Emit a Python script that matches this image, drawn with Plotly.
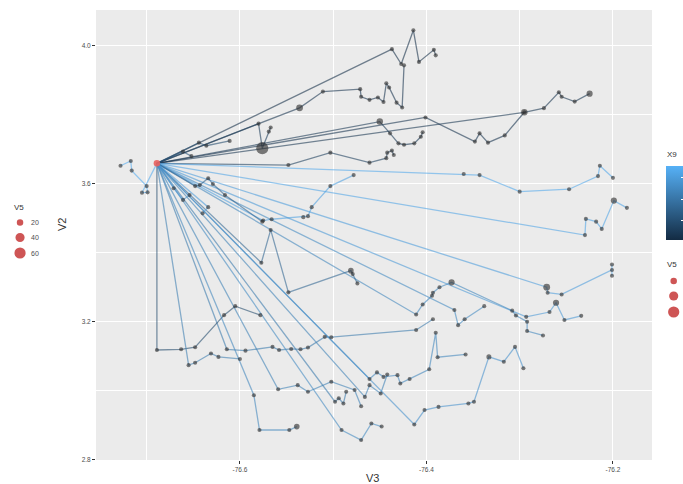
import plotly.graph_objects as go
from plotly.colors import sample_colorscale

# ---------------- data (V3 = longitude, V2 = latitude, V5 = size, X9 = colour) ----------------
ORIGIN_V3 = -76.689
ORIGIN_V2 = 3.659
ORIGIN_V5 = 20

path01_v3 = [-76.437, -76.427, -76.414, -76.408, -76.392, -76.390]
path01_v2 = [3.990, 3.947, 4.045, 3.953, 3.988, 3.972]
path01_v5 = [8, 8, 8, 8, 8, 8]

path02_v3 = [-76.536, -76.511, -76.471, -76.470, -76.461, -76.452, -76.446, -76.443, -76.440, -76.432, -76.426, -76.424]
path02_v2 = [3.820, 3.867, 3.874, 3.852, 3.843, 3.850, 3.837, 3.891, 3.879, 3.835, 3.821, 3.943]
path02_v5 = [22, 8, 8, 8, 8, 8, 8, 8, 8, 8, 8, 8]

path03_v3 = [-76.580, -76.576, -76.569, -76.567]
path03_v2 = [3.774, 3.703, 3.751, 3.763]
path03_v5 = [8, 70, 8, 8]

path04_v3 = [-76.450, -76.439, -76.430, -76.424, -76.413, -76.406, -76.404]
path04_v2 = [3.780, 3.746, 3.717, 3.713, 3.717, 3.736, 3.749]
path04_v5 = [20, 8, 8, 8, 8, 8, 8]

path05_v3 = [-76.401, -76.348, -76.343, -76.334, -76.316, -76.295]
path05_v2 = [3.792, 3.722, 3.746, 3.719, 3.740, 3.807]
path05_v5 = [8, 8, 8, 8, 8, 8]

path06_v3 = [-76.295, -76.274, -76.258, -76.255, -76.241, -76.225]
path06_v2 = [3.807, 3.819, 3.865, 3.852, 3.838, 3.861]
path06_v5 = [20, 8, 8, 8, 8, 18]

path07_v3 = [-76.548, -76.503, -76.461, -76.443, -76.442, -76.437, -76.435]
path07_v2 = [3.654, 3.690, 3.661, 3.674, 3.690, 3.696, 3.683]
path07_v5 = [8, 8, 8, 8, 8, 8, 8]

path08_v3 = [-76.644, -76.636, -76.611]
path08_v2 = [3.719, 3.710, 3.724]
path08_v5 = [8, 8, 8]

path09_v3 = [-76.661, -76.652]
path09_v2 = [3.693, 3.680]
path09_v5 = [8, 8]

path10_v3 = [-76.705, -76.699, -76.700, -76.716, -76.717, -76.728]
path10_v2 = [3.574, 3.575, 3.593, 3.638, 3.666, 3.652]
path10_v5 = [8, 8, 8, 8, 8, 8]

path11_v3 = [-76.360, -76.343, -76.300, -76.247, -76.216, -76.214, -76.200]
path11_v2 = [3.628, 3.625, 3.577, 3.584, 3.622, 3.652, 3.617]
path11_v5 = [8, 8, 8, 8, 8, 8, 8]

path12_v3 = [-76.575, -76.566, -76.532, -76.527, -76.523, -76.503, -76.478]
path12_v2 = [3.493, 3.497, 3.503, 3.506, 3.532, 3.593, 3.625]
path12_v5 = [8, 8, 8, 8, 8, 8, 8]

path13_v3 = [-76.230, -76.229, -76.218, -76.212, -76.199, -76.185]
path13_v2 = [3.451, 3.498, 3.490, 3.469, 3.551, 3.530]
path13_v5 = [8, 8, 8, 8, 18, 8]

path14_v3 = [-76.271, -76.270, -76.255, -76.201, -76.201, -76.201]
path14_v2 = [3.300, 3.284, 3.279, 3.350, 3.366, 3.333]
path14_v5 = [22, 8, 8, 8, 8, 8]

path15_v3 = [-76.293, -76.268, -76.261, -76.252, -76.234]
path15_v2 = [3.214, 3.228, 3.255, 3.205, 3.217]
path15_v5 = [8, 8, 18, 8, 8]

path16_v3 = [-76.411, -76.404, -76.394, -76.393, -76.386, -76.373, -76.308, -76.304, -76.292, -76.292, -76.275]
path16_v2 = [3.221, 3.250, 3.275, 3.284, 3.300, 3.314, 3.232, 3.218, 3.200, 3.173, 3.160]
path16_v5 = [8, 8, 8, 8, 8, 18, 8, 8, 8, 8, 8]

path17_v3 = [-76.370, -76.366, -76.359, -76.338]
path17_v2 = [3.234, 3.190, 3.207, 3.245]
path17_v5 = [8, 8, 8, 8]

path18_v3 = [-76.614, -76.594, -76.565, -76.558, -76.545, -76.535, -76.527, -76.509, -76.502, -76.411, -76.393]
path18_v2 = [3.120, 3.116, 3.127, 3.118, 3.121, 3.120, 3.125, 3.156, 3.155, 3.176, 3.207]
path18_v5 = [8, 8, 8, 8, 8, 8, 8, 8, 8, 8, 8]

path19_v3 = [-76.689, -76.663, -76.648, -76.617, -76.605, -76.578]
path19_v2 = [3.118, 3.120, 3.126, 3.219, 3.245, 3.219]
path19_v5 = [8, 8, 8, 8, 8, 8]

path20_v3 = [-76.655, -76.648, -76.631, -76.623, -76.600]
path20_v2 = [3.074, 3.081, 3.108, 3.098, 3.092]
path20_v5 = [8, 8, 8, 8, 8]

path21_v3 = [-76.577, -76.567, -76.548, -76.481, -76.479, -76.474]
path21_v2 = [3.371, 3.466, 3.285, 3.348, 3.338, 3.311]
path21_v5 = [8, 8, 8, 15, 8, 8]

path22_v3 = [-76.585, -76.579, -76.547, -76.539]
path22_v2 = [2.987, 2.886, 2.886, 2.896]
path22_v5 = [8, 8, 8, 15]

path23_v3 = [-76.559, -76.538, -76.527, -76.502, -76.477, -76.470]
path23_v2 = [3.004, 3.016, 2.997, 3.026, 3.002, 2.955]
path23_v5 = [8, 8, 8, 8, 8, 8]

path24_v3 = [-76.498, -76.494, -76.489, -76.486]
path24_v2 = [2.968, 2.978, 2.963, 2.997]
path24_v5 = [8, 8, 8, 8]

path25_v3 = [-76.461, -76.453, -76.446, -76.431, -76.428, -76.418, -76.397, -76.390, -76.388, -76.358]
path25_v2 = [3.034, 3.053, 3.040, 3.045, 3.021, 3.034, 3.062, 3.168, 3.097, 3.105]
path25_v5 = [8, 8, 8, 8, 8, 8, 8, 8, 8, 8]

path26_v3 = [-76.466, -76.461, -76.449, -76.442]
path26_v2 = [2.982, 3.016, 2.992, 3.047]
path26_v5 = [8, 8, 8, 8]

path27_v3 = [-76.413, -76.402, -76.387, -76.355, -76.349, -76.333, -76.317, -76.305, -76.296]
path27_v2 = [2.902, 2.944, 2.953, 2.963, 2.968, 3.098, 3.084, 3.127, 3.065]
path27_v5 = [8, 8, 8, 8, 8, 12, 8, 8, 8]

path28_v3 = [-76.491, -76.470, -76.459, -76.448]
path28_v2 = [2.886, 2.857, 2.905, 2.896]
path28_v5 = [8, 8, 8, 8]

path29_v3 = [-76.648, -76.643, -76.634, -76.629, -76.616, -76.576]
path29_v2 = [3.593, 3.596, 3.616, 3.599, 3.567, 3.490]
path29_v5 = [8, 8, 8, 8, 8, 8]

path30_v3 = [-76.671, -76.661, -76.654]
path30_v2 = [3.587, 3.553, 3.567]
path30_v5 = [8, 8, 8]

path31_v3 = [-76.634, -76.640]
path31_v2 = [3.532, 3.514]
path31_v5 = [8, 8]

X9 = [0.20, 0.30, 0.50, 0.40, 0.30, 0.35, 0.60, 0.90, 1.10, 3.40,
      3.30, 3.10, 3.20, 3.00, 2.90, 2.40, 2.50, 2.10, 0.90, 2.20,
      1.60, 2.40, 2.30, 2.10, 2.40, 2.30, 2.70, 2.50, 1.50, 2.80, 3.00]
X9_MIN, X9_MAX = 0.1, 3.5
X9_TICKS = [1, 2, 3]

X_TICKS = [-76.6, -76.4, -76.2]
X_TICKTEXT = ["-76.6", "-76.4", "-76.2"]
X_MINOR = [-76.7, -76.5, -76.3]
Y_TICKS = [2.8, 3.2, 3.6, 4.0]
Y_TICKTEXT = ["2.8", "3.2", "3.6", "4.0"]
Y_MINOR = [3.0, 3.4, 3.8]
V5_LEGEND = [20, 40, 60]
V5_LEGEND_TEXT = ["20", "40", "60"]

PATHS = [
    (path01_v3, path01_v2, path01_v5), (path02_v3, path02_v2, path02_v5),
    (path03_v3, path03_v2, path03_v5), (path04_v3, path04_v2, path04_v5),
    (path05_v3, path05_v2, path05_v5), (path06_v3, path06_v2, path06_v5),
    (path07_v3, path07_v2, path07_v5), (path08_v3, path08_v2, path08_v5),
    (path09_v3, path09_v2, path09_v5), (path10_v3, path10_v2, path10_v5),
    (path11_v3, path11_v2, path11_v5), (path12_v3, path12_v2, path12_v5),
    (path13_v3, path13_v2, path13_v5), (path14_v3, path14_v2, path14_v5),
    (path15_v3, path15_v2, path15_v5), (path16_v3, path16_v2, path16_v5),
    (path17_v3, path17_v2, path17_v5), (path18_v3, path18_v2, path18_v5),
    (path19_v3, path19_v2, path19_v5), (path20_v3, path20_v2, path20_v5),
    (path21_v3, path21_v2, path21_v5), (path22_v3, path22_v2, path22_v5),
    (path23_v3, path23_v2, path23_v5), (path24_v3, path24_v2, path24_v5),
    (path25_v3, path25_v2, path25_v5), (path26_v3, path26_v2, path26_v5),
    (path27_v3, path27_v2, path27_v5), (path28_v3, path28_v2, path28_v5),
    (path29_v3, path29_v2, path29_v5), (path30_v3, path30_v2, path30_v5),
    (path31_v3, path31_v2, path31_v5),
]

# ---------------- styling ----------------
COLORSCALE = [[0, "#132B43"], [1, "#56B1F7"]]
FONT = "Liberation Sans, Arial, sans-serif"
W, H = 683, 484
L_PX, R_PX, T_PX, B_PX = 96, 652.3, 10, 460


def dia(v):
    return 1.45 * v ** 0.5


def px_x(px):
    return (px - L_PX) / (R_PX - L_PX)


def px_y(py):
    return (B_PX - py) / (B_PX - T_PX)


fig = go.Figure()

# paths (all start from origin)
for (vx, vy, v5), x9 in zip(PATHS, X9):
    t = (x9 - X9_MIN) / (X9_MAX - X9_MIN)
    col = sample_colorscale(COLORSCALE, [t])[0]
    fig.add_trace(go.Scatter(
        x=[ORIGIN_V3] + vx, y=[ORIGIN_V2] + vy, mode="lines",
        line=dict(color=col, width=1.3), opacity=0.58,
        hoverinfo="skip", showlegend=False))

# points
for (vx, vy, v5), x9 in zip(PATHS, X9):
    fig.add_trace(go.Scatter(
        x=vx, y=vy, mode="markers",
        marker=dict(size=[dia(v) for v in v5], color="#2e2e2e", opacity=0.62,
                    line=dict(width=0)),
        hoverinfo="skip", showlegend=False))

# colour bar carrier
fig.add_trace(go.Scatter(
    x=[ORIGIN_V3], y=[ORIGIN_V2], mode="markers",
    marker=dict(size=1, color=[X9_MIN], colorscale=COLORSCALE, cmin=X9_MIN, cmax=X9_MAX,
                showscale=True,
                colorbar=dict(x=px_x(666.5), xanchor="left", xpad=0, ypad=0,
                              y=px_y(203.4), yanchor="middle",
                              len=73.5, lenmode="pixels", thickness=18,
                              outlinewidth=0, ticks="inside", ticklen=3,
                              tickcolor="white", tickwidth=1,
                              tickvals=X9_TICKS, showticklabels=False)),
    hoverinfo="skip", showlegend=False))

# origin point
fig.add_trace(go.Scatter(
    x=[ORIGIN_V3], y=[ORIGIN_V2], mode="markers",
    marker=dict(size=dia(ORIGIN_V5), color="#E8615E", opacity=0.9, line=dict(width=0)),
    hoverinfo="skip", showlegend=False))

shapes = []
annotations = []

# axis titles
annotations.append(dict(text="V3", x=px_x(372.5), y=px_y(478), xref="paper", yref="paper",
                        showarrow=False, font=dict(family=FONT, size=11, color="#333333"),
                        xanchor="center", yanchor="middle"))
annotations.append(dict(text="V2", x=px_x(62), y=px_y(225), xref="paper", yref="paper",
                        showarrow=False, textangle=-90,
                        font=dict(family=FONT, size=11, color="#333333"),
                        xanchor="center", yanchor="middle"))

# left V5 legend
annotations.append(dict(text="V5", x=px_x(12), y=px_y(207), xref="paper", yref="paper",
                        showarrow=False, font=dict(family=FONT, size=8, color="#333333"),
                        xanchor="left", yanchor="middle"))
for v, lab, cy in zip(V5_LEGEND, V5_LEGEND_TEXT, [222.5, 237.5, 253]):
    d = dia(v)
    shapes.append(dict(type="circle", xref="paper", yref="paper",
                       x0=px_x(20 - d / 2), x1=px_x(20 + d / 2),
                       y0=px_y(cy + d / 2), y1=px_y(cy - d / 2),
                       fillcolor="#C94343", opacity=0.9, line=dict(width=0)))
    annotations.append(dict(text=lab, x=px_x(29), y=px_y(cy), xref="paper", yref="paper",
                            showarrow=False, font=dict(family=FONT, size=7, color="#4d4d4d"),
                            xanchor="left", yanchor="middle"))

# right legends
annotations.append(dict(text="X9", x=px_x(665.5), y=px_y(155), xref="paper", yref="paper",
                        showarrow=False, font=dict(family=FONT, size=8, color="#333333"),
                        xanchor="left", yanchor="middle"))
annotations.append(dict(text="V5", x=px_x(665.5), y=px_y(264), xref="paper", yref="paper",
                        showarrow=False, font=dict(family=FONT, size=8, color="#333333"),
                        xanchor="left", yanchor="middle"))
for v, cy in zip(V5_LEGEND, [281, 296, 312]):
    d = dia(v)
    shapes.append(dict(type="circle", xref="paper", yref="paper",
                       x0=px_x(674 - d / 2), x1=px_x(674 + d / 2),
                       y0=px_y(cy + d / 2), y1=px_y(cy - d / 2),
                       fillcolor="#C94343", opacity=0.9, line=dict(width=0)))

fig.update_layout(
    width=W, height=H,
    margin=dict(l=L_PX, r=W - R_PX, t=T_PX, b=H - B_PX, autoexpand=False),
    paper_bgcolor="white", plot_bgcolor="#EBEBEB",
    showlegend=False, hovermode=False,
    font=dict(family=FONT),
    shapes=shapes, annotations=annotations,
    xaxis=dict(range=[-76.7543, -76.1581], tickvals=X_TICKS, ticktext=X_TICKTEXT,
               ticks="outside", ticklen=3, tickwidth=1, tickcolor="#333333",
               tickfont=dict(size=6.5, color="#4d4d4d"),
               showgrid=True, gridcolor="white", gridwidth=1.2, zeroline=False,
               showline=False,
               minor=dict(tickvals=X_MINOR, showgrid=True, gridcolor="white",
                          gridwidth=0.7, ticks="")),
    yaxis=dict(range=[2.7991, 4.1035], tickvals=Y_TICKS, ticktext=Y_TICKTEXT,
               ticks="outside", ticklen=3, tickwidth=1, tickcolor="#333333",
               tickfont=dict(size=6.5, color="#4d4d4d"),
               showgrid=True, gridcolor="white", gridwidth=1.2, zeroline=False,
               showline=False,
               minor=dict(tickvals=Y_MINOR, showgrid=True, gridcolor="white",
                          gridwidth=0.7, ticks="")),
)

fig.write_html(
    "out.html",
    config={"displayModeBar": False},
    post_script="document.body.style.margin='0';document.body.style.overflow='hidden';",
)
